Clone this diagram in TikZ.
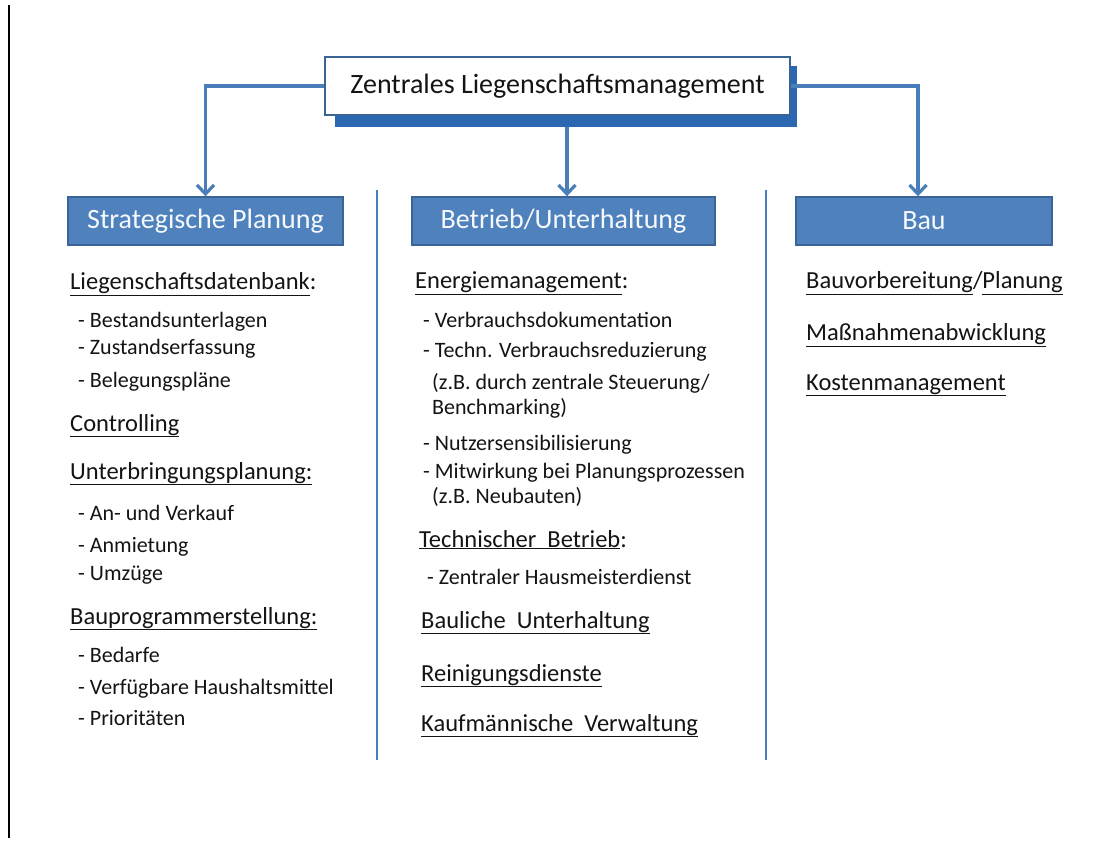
\documentclass[tikz,border=0pt]{standalone}
\usepackage{fontspec}
\setmainfont{Carlito}
\usetikzlibrary{arrows.meta}
\definecolor{hdrfill}{HTML}{4F81BD}
\definecolor{hdrline}{HTML}{3A6496}
\definecolor{shadowblue}{HTML}{2C68B2}
\definecolor{linkblue}{HTML}{4A7EBB}
\definecolor{ink}{HTML}{141414}
\tikzset{
  topbox/.style={draw=hdrline, line width=2.2pt, fill=white, minimum width=465pt, minimum height=58pt, inner sep=0pt, text=ink, font=\fontsize{28}{32}\selectfont},
  hdrbox/.style={draw=hdrline, line width=1.4pt, fill=hdrfill, minimum height=48pt, inner sep=0pt, text=white!95!hdrfill, font=\fontsize{28}{32}\selectfont},
  link/.style={draw=linkblue, line width=3.2pt, -{Straight Barb[length=9pt,width=17pt,line width=3.2pt]}},
  sepline/.style={draw=linkblue, line width=1.8pt},
  headtxt/.style={anchor=base west, inner sep=0pt, text=ink, font=\fontsize{24.5}{29}\selectfont},
  itemtxt/.style={anchor=base west, inner sep=0pt, text=ink, font=\fontsize{22}{26}\selectfont}
}
\begin{document}
\begin{tikzpicture}[x=1pt,y=-1pt]
\useasboundingbox[fill=white] (0,0) rectangle (1114,842);
% page edge on the left
\draw[black, line width=1.6pt] (9,5) -- (9,838);

% top box with its drop shadow
\fill[shadowblue] (335,66) rectangle (797,127);
\node[topbox] (top) at (557.5,86) {Zentrales Liegenschaftsmanagement};
\coordinate (shb) at (567,127);

% column headers
\node[hdrbox, minimum width=275pt] (sp) at (205.5,221) {Strategische Planung};
\node[hdrbox, minimum width=303pt] (bb) at (563.5,221) {Betrieb/Unterhaltung};
\node[hdrbox, minimum width=256pt] (bau) at (924,221) {Bau};

% connectors
\draw[link] (top.west) -| (sp.north);
\draw[link] (shb) -- (shb |- bb.north);
\draw[link] (top.east) -| ([xshift=-6pt]bau.north);

% column separators
\draw[sepline] (377,190) -- (377,760);
\draw[sepline] (766,190) -- (766,760);

% left column
\node[headtxt] (l1) at (70,290) {\underline{Liegenschaftsdatenbank}:};
\node[itemtxt] (l2) at (78,327) {- Bestandsunterlagen};
\node[itemtxt] (l3) at (78,355) {- Zustandserfassung};
\node[itemtxt] (l4) at (78,387) {- Belegungspläne};
\node[headtxt] (l5) at (70,431) {\underline{Controlling}};
\node[headtxt] (l6) at (70,479) {\underline{Unterbringungsplanung:}};
\node[itemtxt] (l7) at (78,520) {- An- und Verkauf};
\node[itemtxt] (l8) at (78,552) {- Anmietung};
\node[itemtxt] (l9) at (78,580) {- Umzüge};
\node[headtxt] (l10) at (70,624) {\underline{Bauprogrammerstellung:}};
\node[itemtxt] (l11) at (78,662) {- Bedarfe};
\node[itemtxt] (l12) at (78,694) {- Verfügbare Haushaltsmittel};
\node[itemtxt] (l13) at (78,725) {- Prioritäten};

% middle column
\node[headtxt] (m1) at (415,289) {\underline{Energiemanagement}:};
\node[itemtxt] (m2) at (423,328) {- Verbrauchsdokumentation};
\node[itemtxt] (m3) at (423,358) {- Techn. Verbrauchsreduzierung};
\node[itemtxt] (m4) at (432,389) {(z.B. durch zentrale Steuerung/};
\node[itemtxt] (m5) at (432,414) {Benchmarking)};
\node[itemtxt] (m6) at (423,450) {- Nutzersensibilisierung};
\node[itemtxt] (m7) at (423,478) {- Mitwirkung bei Planungsprozessen};
\node[itemtxt] (m8) at (432,503) {(z.B. Neubauten)};
\node[headtxt] (m9) at (419,547) {\underline{Technischer~~Betrieb}:};
\node[itemtxt] (m10) at (427,584) {- Zentraler Hausmeisterdienst};
\node[headtxt] (m11) at (421,628) {\underline{Bauliche~~Unterhaltung}};
\node[headtxt] (m12) at (421,681) {\underline{Reinigungsdienste}};
\node[headtxt] (m13) at (421,731) {\underline{Kaufmännische~~Verwaltung}};

% right column
\node[headtxt] (r1) at (806,289) {\underline{Bauvorbereitung}/\underline{Planung}};
\node[headtxt] (r2) at (806,341) {\underline{Maßnahmenabwicklung}};
\node[headtxt] (r3) at (806,390) {\underline{Kostenmanagement}};
\end{tikzpicture}
\end{document}
